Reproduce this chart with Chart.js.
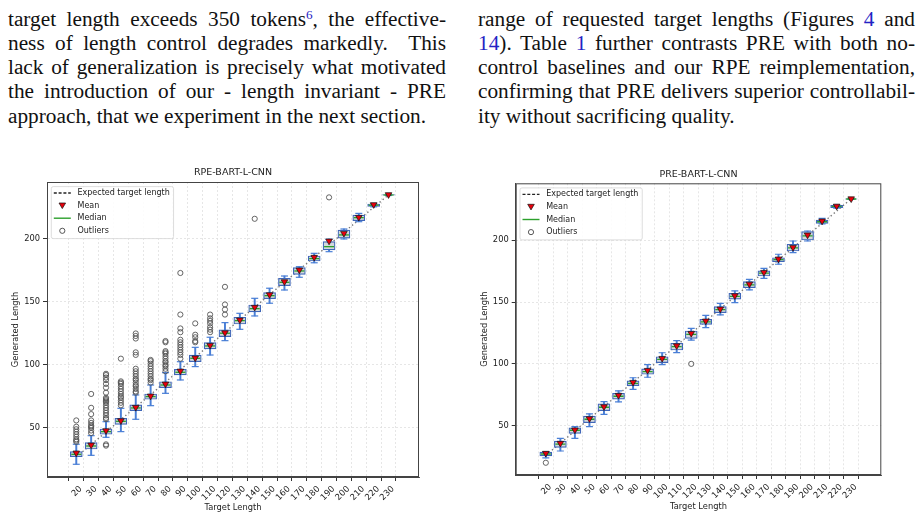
<!DOCTYPE html>
<html>
<head>
<meta charset="utf-8">
<title>RPE vs PRE length control</title>
<style>
  body { margin: 0; width: 923px; height: 519px; position: relative; background: #fff; overflow: hidden; }
  .col { position: absolute; top: 6.7px; font-family: "Liberation Serif", "Times New Roman", serif; font-size: 21.3px; line-height: 24.2px; color: #111; }
  .col div { text-align: justify; text-align-last: justify; white-space: nowrap; }
  .col div.last { text-align-last: left; }
  #left { left: 8px; width: 438px; }
  #right { left: 478px; width: 437px; }
  a { color: #2323c4; text-decoration: none; }
  sup { font-size: 0.62em; line-height: 0; vertical-align: 0.5em; }
  .box { position: absolute; top: 160px; height: 359px; }
  #box1 { left: 0; width: 460px; }
  #box2 { left: 460px; width: 463px; }
</style>
<script src="https://cdn.jsdelivr.net/npm/chart.js"></script>
</head>
<body>
<div class="col" id="left">
  <div>target length exceeds 350 tokens<sup><a>6</a></sup>, the effective-</div>
  <div>ness of length control degrades markedly.&nbsp; This</div>
  <div>lack of generalization is precisely what motivated</div>
  <div>the introduction of our - length invariant - PRE</div>
  <div class="last">approach, that we experiment in the next section.</div>
</div>
<div class="col" id="right">
  <div>range of requested target lengths (Figures <a>4</a> and</div>
  <div><a>14</a>). Table <a>1</a> further contrasts PRE with both no-</div>
  <div>control baselines and our RPE reimplementation,</div>
  <div>confirming that PRE delivers superior controllabil-</div>
  <div class="last">ity without sacrificing quality.</div>
</div>
<div class="box" id="box1"><canvas id="rpeChart"></canvas></div>
<div class="box" id="box2"><canvas id="preChart"></canvas></div>
<script>
// x categories (target length) and axis ticks
const targets = [20, 30, 40, 50, 60, 70, 80, 90, 100, 110, 120, 130, 140, 150, 160, 170, 180, 190, 200, 210, 220, 230];
const yTickValues = [50, 100, 150, 200];
const expectedTargets = [20, 230];
const legendLabels = ['Expected target length', 'Mean', 'Median', 'Outliers'];

// RPE-BART-L-CNN
const rpeQ1 = [27.2, 33.3, 45.0, 52.9, 63.7, 72.8, 82.0, 92.1, 102.6, 112.7, 122.5, 132.5, 142.1, 152.6, 162.9, 171.9, 182.5, 191.3, 200.6, 214.5, 225.9, 234.7];
const rpeQ3 = [31.2, 38.4, 49.2, 57.7, 68.3, 77.0, 86.7, 96.6, 107.9, 117.7, 127.8, 137.9, 147.6, 157.4, 168.8, 177.2, 186.5, 197.9, 207.1, 219.0, 227.7, 235.2];
const rpeMedian = [29.1, 35.7, 47.1, 55.3, 65.9, 74.9, 84.1, 94.2, 105.3, 115.1, 125.2, 135.2, 144.7, 155.0, 165.6, 174.6, 184.4, 193.9, 203.2, 216.9, 226.8, 234.9];
const rpeMean = [30.2, 36.5, 47.9, 55.8, 66.4, 75.4, 84.9, 95.2, 105.6, 115.6, 125.6, 135.7, 145.8, 155.8, 166.1, 175.4, 185.5, 198.4, 204.5, 217.2, 227.3, 235.2];
const rpeLow = [21.2, 28.3, 42.6, 47.1, 56.9, 67.7, 77.5, 88.1, 98.7, 107.9, 119.3, 128.3, 138.9, 149.0, 159.5, 169.6, 181.1, 189.9, 200.0, 213.7, 225.5, 234.5];
const rpeHigh = [37.1, 43.9, 55.0, 65.6, 76.2, 84.1, 93.9, 102.6, 114.0, 122.0, 133.6, 141.0, 152.9, 160.9, 170.6, 178.0, 188.6, 199.8, 207.9, 220.3, 228.1, 235.4];
const rpeOutliers = [
  [56, 51, 49, 47, 45, 43, 41, 40, 39],
  [77, 66, 61, 56, 54, 52, 51, 50, 48, 46],
  [93, 92, 90, 88, 85, 82, 78, 74, 73, 72, 71, 70, 68, 66, 64, 62, 60, 58, 57, 37, 36],
  [105, 87, 86, 85, 83, 81, 79, 77, 75, 74, 72, 70, 68],
  [125, 123, 121, 110, 108, 97, 95, 93, 91, 89, 88, 86, 84, 83, 81, 79, 78],
  [104, 103, 101, 99, 97, 95, 93, 91, 89, 88, 86],
  [119, 118, 111, 110, 109, 107, 105, 103, 102, 100, 99, 97, 95],
  [173, 140, 129, 126, 120, 118, 116, 114, 112, 110, 108, 105],
  [133, 124, 122, 119, 118],
  [140, 137, 135, 133, 130, 128, 126],
  [162, 148, 144, 140],
  [], [216], [], [], [], [], [233], [], [], [], []
];
const rpeExpected = [27, 235];

// PRE-BART-L-CNN
const preQ1 = [25.5, 32.5, 43.8, 52.4, 62.1, 71.4, 82.4, 91.6, 101.0, 111.2, 120.7, 132.0, 141.4, 152.3, 161.6, 171.1, 182.7, 191.3, 200.2, 213.7, 226.4, 233.2];
const preQ3 = [28.7, 37.6, 48.2, 57.8, 67.6, 76.2, 86.2, 95.9, 105.8, 116.7, 126.6, 136.1, 146.3, 157.1, 166.5, 175.2, 185.9, 196.8, 207.0, 216.4, 228.3, 233.6];
const preMedian = [27.1, 35.0, 46.3, 55.2, 64.9, 73.8, 84.3, 93.7, 103.7, 114.0, 123.8, 134.0, 143.9, 154.6, 163.9, 173.4, 184.3, 193.9, 203.5, 215.0, 227.4, 233.4];
const preMean = [27.7, 35.8, 46.6, 55.7, 65.4, 74.6, 85.1, 94.8, 104.5, 114.7, 124.7, 134.7, 144.4, 155.2, 164.6, 174.1, 184.9, 194.3, 204.3, 215.6, 227.7, 233.6];
const preLow = [24.0, 29.5, 39.8, 49.2, 59.2, 69.2, 79.4, 89.2, 99.4, 109.1, 119.3, 129.3, 139.6, 149.5, 159.8, 169.2, 180.6, 190.0, 199.4, 213.2, 226.0, 233.0];
const preHigh = [29.0, 39.8, 49.2, 59.5, 69.4, 78.1, 88.8, 99.4, 109.0, 118.8, 128.8, 139.3, 149.0, 159.0, 168.4, 177.3, 188.7, 199.4, 207.5, 217.8, 228.6, 233.8];
const preOutliers = [
  [20], [], [], [], [], [], [], [], [], [], [100],
  [], [], [], [], [], [], [], [], [], [], []
];
const preExpected = [26, 233.5];

const FONT = '"DejaVu Sans", Verdana, sans-serif';
const TXT = '#222';

// matplotlib-like legend box + full frame around the axes
const boxLegend = {
  id: 'boxLegend',
  afterDraw(chart) {
    const { ctx, chartArea: a } = chart;
    ctx.save();
    ctx.strokeStyle = '#444';
    ctx.lineWidth = 1;
    ctx.setLineDash([]);
    ctx.strokeRect(a.left + 0.5, a.top + 0.5, a.right - a.left - 1, a.bottom - a.top - 1);

    ctx.font = '8px ' + FONT;
    const textW = Math.max(...legendLabels.map(t => ctx.measureText(t).width));
    const x0 = a.left + 4.3, y0 = a.top + 4.6;
    const w = 26 + textW + 4, h = 52;
    ctx.beginPath();
    ctx.roundRect(x0, y0, w, h, 2);
    ctx.fillStyle = 'rgba(255,255,255,0.85)';
    ctx.fill();
    ctx.strokeStyle = '#d4d4d4';
    ctx.lineWidth = 0.8;
    ctx.stroke();

    const cx = a.left + 15.3;
    legendLabels.forEach((label, i) => {
      const y = a.top + 11 + i * 12.6;
      ctx.save();
      if (i === 0) {
        ctx.strokeStyle = '#222'; ctx.lineWidth = 1.3; ctx.setLineDash([3, 1.8]);
        ctx.beginPath(); ctx.moveTo(cx - 8.5, y); ctx.lineTo(cx + 8.5, y); ctx.stroke();
      } else if (i === 1) {
        ctx.fillStyle = '#e8000b'; ctx.strokeStyle = '#111'; ctx.lineWidth = 0.7;
        ctx.beginPath(); ctx.moveTo(cx - 3.3, y - 2.6); ctx.lineTo(cx + 3.3, y - 2.6); ctx.lineTo(cx, y + 3); ctx.closePath();
        ctx.fill(); ctx.stroke();
      } else if (i === 2) {
        ctx.strokeStyle = '#2ca02c'; ctx.lineWidth = 1.4;
        ctx.beginPath(); ctx.moveTo(cx - 8.5, y); ctx.lineTo(cx + 8.5, y); ctx.stroke();
      } else {
        ctx.strokeStyle = '#444'; ctx.lineWidth = 0.9;
        ctx.beginPath(); ctx.arc(cx, y, 2.6, 0, Math.PI * 2); ctx.stroke();
      }
      ctx.restore();
      ctx.fillStyle = TXT;
      ctx.textBaseline = 'middle';
      ctx.fillText(label, a.left + 30.5, y);
    });
    ctx.restore();
  }
};

function buildChart(id, title, s, L) {
  const boxes = targets.map((t, i) => ({ x: t, y: [s.q1[i], s.q3[i]] }));
  const whiskers = targets.map((t, i) => ({ x: t, y: [s.lo[i], s.hi[i]] }));
  const caps = targets.flatMap((t, i) => [{ x: t, y: s.lo[i] }, { x: t, y: s.hi[i] }]);
  const medians = targets.map((t, i) => ({ x: t, y: s.med[i] }));
  const means = targets.map((t, i) => ({ x: t, y: s.mean[i] }));
  const outliers = targets.flatMap((t, i) => s.out[i].map(v => ({ x: t, y: v })));
  const expected = expectedTargets.map((t, i) => ({ x: t, y: s.expected[i] }));

  const gridOpts = { color: '#e0e0e0', lineWidth: 0.8, tickColor: '#333', tickLength: 4, tickWidth: 1 };

  return new Chart(document.getElementById(id), {
    type: 'scatter',
    data: {
      datasets: [
        { type: 'line', data: expected, borderColor: '#7a7a7a', borderWidth: 1.4, borderDash: [1.4, 2.6], pointRadius: 0, fill: false, order: 10 },
        { type: 'bar', data: whiskers, barThickness: 1.3, grouped: false, backgroundColor: '#4a7fd6', borderWidth: 0, order: 9 },
        { type: 'bar', data: boxes, barThickness: 12, grouped: false, backgroundColor: '#d3d8dc', borderColor: '#3f66b8', borderWidth: 1.2, borderSkipped: false, order: 8 },
        { data: caps, pointStyle: 'line', pointRadius: 3.5, borderColor: '#4a7fd6', borderWidth: 1.2, order: 7 },
        { data: medians, pointStyle: 'line', pointRadius: 5, borderColor: '#2ca02c', borderWidth: 1.3, order: 6 },
        { data: outliers, pointStyle: 'circle', pointRadius: 2.6, backgroundColor: 'rgba(0,0,0,0)', borderColor: '#555', borderWidth: 0.9, order: 5 },
        { data: means, pointStyle: 'triangle', rotation: 180, pointRadius: 3.8, backgroundColor: '#e8000b', borderColor: '#111', borderWidth: 0.7, order: 1 }
      ]
    },
    options: {
      responsive: true,
      maintainAspectRatio: false,
      animation: false,
      events: [],
      layout: { padding: { left: 0, right: L.right, top: 0, bottom: 0 } },
      plugins: {
        legend: { display: false },
        tooltip: { enabled: false },
        title: { display: true, text: title, fullSize: false, color: TXT, font: { family: FONT, size: 9.5, weight: 'normal' }, padding: { top: L.titleTop, bottom: L.titleBottom } }
      },
      scales: {
        x: {
          type: 'linear', min: L.xMin, max: L.xMax,
          afterBuildTicks: sc => { sc.ticks = targets.map(v => ({ value: v })); },
          afterFit: sc => { sc.height = L.xHeight; },
          ticks: { autoSkip: false, minRotation: 45, maxRotation: 45, labelOffset: 4.5, padding: 3, color: TXT, font: { family: FONT, size: 8.5 } },
          grid: gridOpts,
          border: { color: '#444', dash: [2, 2] },
          title: { display: true, text: 'Target Length', color: TXT, font: { family: FONT, size: 8.3 }, padding: { top: 0, bottom: L.xTitleBottom } }
        },
        y: {
          type: 'linear', min: L.yMin, max: L.yMax,
          afterBuildTicks: sc => { sc.ticks = yTickValues.map(v => ({ value: v })); },
          afterFit: sc => { sc.width = L.yWidth; },
          ticks: { padding: 3, color: TXT, font: { family: FONT, size: 8.3 } },
          grid: gridOpts,
          border: { color: '#444', dash: [2, 2] },
          title: { display: true, text: 'Generated Length', color: TXT, font: { family: FONT, size: 8.3 }, padding: { top: L.yTitleTop, bottom: 0 } }
        }
      }
    },
    plugins: [boxLegend]
  });
}

buildChart('rpeChart', 'RPE-BART-L-CNN',
  { q1: rpeQ1, q3: rpeQ3, med: rpeMedian, mean: rpeMean, lo: rpeLow, hi: rpeHigh, out: rpeOutliers, expected: rpeExpected },
  { right: 41, titleTop: 7, titleBottom: 3.6, xHeight: 42, yWidth: 47, xTitleBottom: 6, yTitleTop: 11, xMin: 6, xMax: 244.8, yMin: 11.1, yMax: 245.2 });

buildChart('preChart', 'PRE-BART-L-CNN',
  { q1: preQ1, q3: preQ3, med: preMedian, mean: preMean, lo: preLow, hi: preHigh, out: preOutliers, expected: preExpected },
  { right: 41.7, titleTop: 9.3, titleBottom: 2.6, xHeight: 44, yWidth: 55.7, xTitleBottom: 7.5, yTitleTop: 20, xMin: 5, xMax: 245, yMin: 10.1, yMax: 246.1 });
</script>
</body>
</html>
